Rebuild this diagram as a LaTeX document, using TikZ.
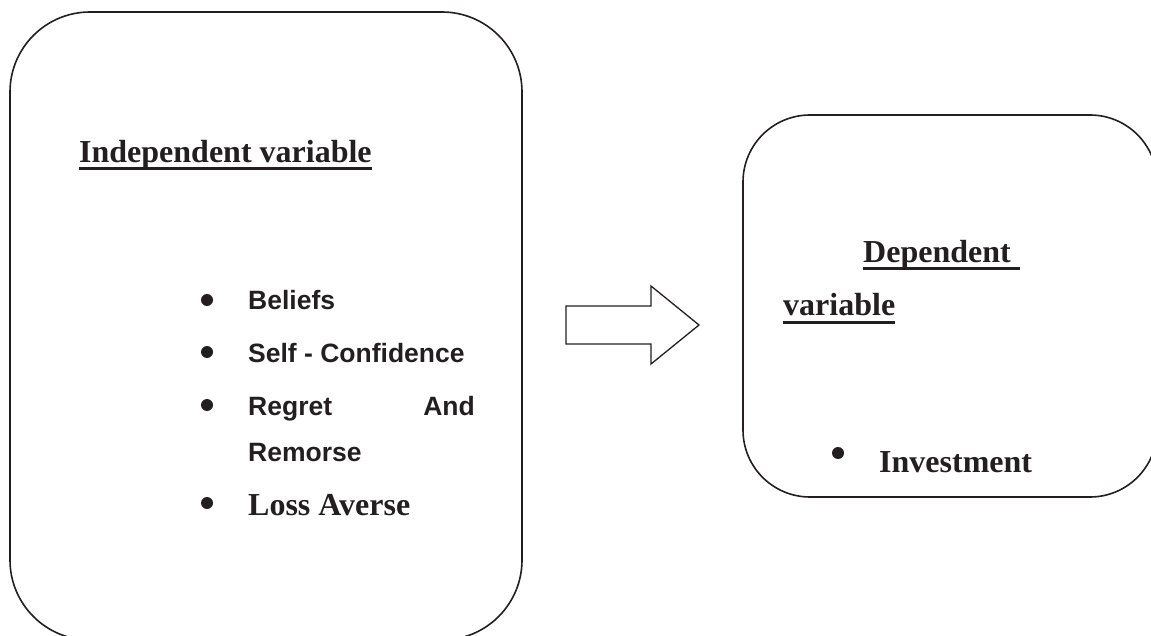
\documentclass[tikz,border=0pt]{standalone}
\usepackage{fontspec}
\setmainfont{Liberation Serif}
\newfontfamily\arialf{Liberation Sans}
\definecolor{ink}{HTML}{231F20}
\begin{document}
\begin{tikzpicture}[x=1pt,y=-1pt,
  txt/.style={anchor=base west, inner sep=0pt, text=ink},
  serifb/.style={font=\fontsize{32}{38}\selectfont\bfseries},
  sansb/.style={font=\arialf\fontsize{26.5}{32}\selectfont\bfseries},
  boxline/.style={draw=ink, line width=1.6pt},
  uline/.style={draw=ink, line width=3pt},
  dot/.style={circle, fill=ink, inner sep=0pt, minimum size=12pt}]
\useasboundingbox (0,0) rectangle (1151,636);
\clip (0,0) rectangle (1151,636);
% boxes
\draw[boxline, rounded corners=80pt] (10,12) rectangle (522,640);
\draw[boxline, rounded corners=67pt] (743,115) rectangle (1157,497);
% block arrow
\draw[boxline, line width=1.3pt] (566,306) -- (651,306) -- (651,286) -- (699,325) -- (651,364) -- (651,344) -- (566,344) -- cycle;
% left texts
\node[txt,serifb] (indep) at (79,163) {Independent variable};
\draw[uline] ([yshift=-6pt]indep.base west) -- ([yshift=-6pt]indep.base east);
\node[dot] (b1) at (207,300) {};
\node[txt,sansb] (t1) at (248,309) {Beliefs};
\node[dot] (b2) at (207,352) {};
\node[txt,sansb] (t2) at (248,362) {Self - Confidence};
\node[dot] (b3) at (207,405) {};
\node[txt,sansb] (t3) at (248,415) {Regret};
\node[txt,sansb,anchor=base east] (t3b) at (475,415) {And};
\node[txt,sansb] (t4) at (248,461) {Remorse};
\node[dot] (b5) at (207,503) {};
\node[txt,serifb] (t5) at (248,515) {Loss Averse};
% right texts
\node[txt,serifb] (dep) at (863,263) {Dependent};
\draw[uline] ([yshift=-6pt]dep.base west) -- ([yshift=-6pt,xshift=9pt]dep.base east);
\node[txt,serifb] (var) at (783,316) {variable};
\draw[uline] ([yshift=-6pt]var.base west) -- ([yshift=-6pt]var.base east);
\node[dot] (b6) at (838,453) {};
\node[txt,serifb] (inv) at (879,472) {Investment};
\end{tikzpicture}
\end{document}
